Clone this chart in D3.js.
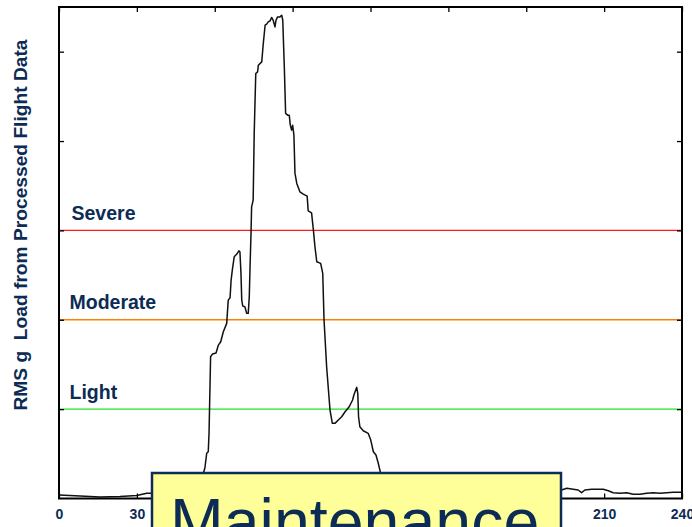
<!DOCTYPE html>
<html>
<head>
<meta charset="utf-8">
<script src="https://cdn.jsdelivr.net/npm/d3@7"></script>
<style>
  html, body { margin: 0; padding: 0; background: #ffffff; overflow: hidden; }
  svg { display: block; }
  text { font-family: "Liberation Sans", Arial, Helvetica, sans-serif; }
</style>
</head>
<body>
<svg id="chart" width="692" height="527"></svg>
<script>
// ---- data ----
const timeSec = [0, 8.1, 15.8, 23.5, 30, 33.8, 35.8, 40, 48, 53, 55,
  55.6, 56.2, 56.9, 57.5, 57.8, 58.4, 59.1, 60.5, 61.4, 62.3, 63.3, 64.6, 65.2, 65.9,
  66.3, 66.8, 67.5, 68.5, 69.3, 69.7, 70.1, 70.4, 70.8, 71.6, 72.3, 72.9, 73.3, 73.6,
  74.0, 74.2, 74.8, 75.2, 75.8, 76.5, 76.8, 78.1, 78.7, 79.4, 80.0, 80.6, 81.3, 81.9,
  82.5, 83.2, 83.6, 84.2, 85.1, 85.8, 86.2, 86.8, 87.3, 88.1, 88.7, 89.1, 89.6, 90.0,
  90.5, 90.9, 91.6, 92.8, 94.1, 95.6, 96.0, 97.3, 98.0, 98.6, 99.3, 100.8, 101.6, 102.1,
  103.1, 104.4, 105.3, 106.3, 107.6, 108.9, 110.2, 111.8, 113.1, 113.6, 114.7, 115.1,
  115.4, 115.9, 117.2, 119.1, 120.1, 121.1, 122.1, 123.0, 123.9,
  126, 130, 140, 160, 180, 192,
  193.6, 195.6, 198.1, 200.0, 201.3, 202.6, 205.2, 209.7, 211.6, 213.5, 216.1, 218.7,
  221.2, 223.8, 226.4, 228.9, 231.5, 234.1, 236.6, 239.8];
const rmsLoad = [0.039, 0.028, 0.017, 0.022, 0.034, 0.058, 0.058, 0.06, 0.08, 0.12, 0.2,
  0.282, 0.341, 0.506, 0.523, 0.733, 1.586, 1.616, 1.628, 1.717, 1.754, 1.866, 1.960, 2.220, 2.246,
  2.444, 2.564, 2.705, 2.735, 2.772, 2.761, 2.519, 2.220, 2.153, 2.145, 2.072, 2.072, 2.257, 2.593,
  3.003, 3.264, 3.339, 4.088, 4.756, 4.774, 4.849, 4.886, 5.092, 5.296, 5.308, 5.333, 5.345, 5.383,
  5.352, 5.277, 5.352, 5.389, 5.389, 5.408, 5.352, 4.830, 4.309, 4.290, 4.290, 4.178, 4.122, 4.178,
  4.066, 3.641, 3.526, 3.432, 3.406, 3.384, 3.219, 3.197, 3.003, 2.817, 2.649, 2.631, 2.519, 1.997,
  1.474, 0.990, 0.841, 0.841, 0.878, 0.915, 0.971, 1.027, 1.102, 1.158, 1.244, 1.177,
  0.915, 0.803, 0.758, 0.729, 0.654, 0.523, 0.487, 0.394, 0.282,
  0.15, 0.08, 0.06, 0.07, 0.08, 0.09,
  0.095, 0.114, 0.103, 0.095, 0.065, 0.095, 0.103, 0.103, 0.087, 0.065, 0.058, 0.065,
  0.047, 0.047, 0.058, 0.065, 0.058, 0.065, 0.069, 0.069];

const thresholdNames  = ["Severe", "Moderate", "Light"];
const thresholdValues = [3, 2, 1];
const thresholdColors = ["#ff1a1a", "#ff8000", "#22e022"];

const xTickValues = [0, 30, 60, 90, 120, 150, 180, 210, 240];
const yTickValues = [1, 2, 3, 4, 5];
const yAxisTitle = "RMS g\u00a0\u00a0Load from Processed Flight Data";
const calloutText = "Maintenance";

// ---- layout ----
const navy = "#0c2b55";
const svg = d3.select("#chart");
const x = d3.scaleLinear().domain([0, 240]).range([59, 682]);
const y = d3.scaleLinear().domain([0, 5.5]).range([498.5, 7]);

// threshold lines
const thr = thresholdNames.map((n, i) => ({ name: n, value: thresholdValues[i], color: thresholdColors[i] }));
svg.append("g").selectAll("line").data(thr).join("line")
  .attr("x1", x(0)).attr("x2", x(240))
  .attr("y1", d => y(d.value)).attr("y2", d => y(d.value))
  .attr("stroke", d => d.color).attr("stroke-width", 1.4);

svg.append("g").selectAll("text").data(thr).join("text")
  .attr("x", d => d.name === "Severe" ? 71.5 : 69.5)
  .attr("y", d => y(d.value) - 10.5)
  .attr("fill", navy).attr("font-weight", "bold").attr("font-size", "19.5px")
  .text(d => d.name);

// data curve
const pts = timeSec.map((t, i) => [t, rmsLoad[i]]);
svg.append("path").datum(pts)
  .attr("fill", "none").attr("stroke", "#111").attr("stroke-width", 1.5)
  .attr("stroke-linejoin", "round")
  .attr("d", d3.line().x(d => x(d[0])).y(d => y(d[1])));

// axes (ticks inward on all four sides)
const gBottom = svg.append("g").attr("transform", `translate(0,${y(0)})`)
  .call(d3.axisBottom(x).tickValues(xTickValues).tickSizeInner(-5).tickSizeOuter(0).tickPadding(10.5).tickFormat(d3.format("d")));
const gTop = svg.append("g").attr("transform", `translate(0,${y(5.5)})`)
  .call(d3.axisTop(x).tickValues(xTickValues).tickSizeInner(-5).tickSizeOuter(0).tickFormat(""));
const gLeft = svg.append("g").attr("transform", `translate(${x(0)},0)`)
  .call(d3.axisLeft(y).tickValues(yTickValues).tickSizeInner(-5).tickSizeOuter(0).tickFormat(""));
const gRight = svg.append("g").attr("transform", `translate(${x(240)},0)`)
  .call(d3.axisRight(y).tickValues(yTickValues).tickSizeInner(-5).tickSizeOuter(0).tickFormat(""));
[gBottom, gTop, gLeft, gRight].forEach(g => {
  g.select(".domain").remove();
  g.selectAll(".tick line").attr("stroke", "#000").attr("stroke-width", 1.3);
});
gBottom.selectAll(".tick text")
  .attr("fill", navy).attr("font-weight", "bold").attr("font-size", "14px")
  .attr("font-family", "\"Liberation Sans\", Arial, sans-serif");

// frame
svg.append("rect")
  .attr("x", x(0)).attr("y", y(5.5))
  .attr("width", x(240) - x(0)).attr("height", y(0) - y(5.5))
  .attr("fill", "none").attr("stroke", "#000").attr("stroke-width", 2);

// y-axis title
svg.append("text")
  .attr("transform", "translate(27,225) rotate(-90)")
  .attr("text-anchor", "middle")
  .attr("fill", navy).attr("font-weight", "bold").attr("font-size", "19.2px")
  .text(yAxisTitle);

// callout box
svg.append("rect")
  .attr("x", 152).attr("y", 473).attr("width", 409).attr("height", 80)
  .attr("fill", "#ffff99").attr("stroke", navy).attr("stroke-width", 2.5);
svg.append("text")
  .attr("x", 170).attr("y", 544)
  .attr("fill", navy).attr("font-size", "64.5px")
  .text(calloutText);
</script>
</body>
</html>
